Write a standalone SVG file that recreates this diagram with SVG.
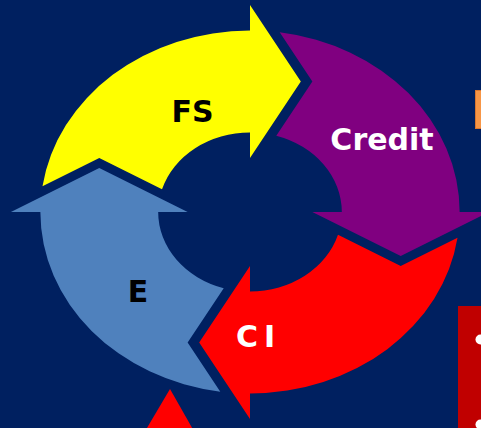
<svg xmlns="http://www.w3.org/2000/svg" width="481" height="428" viewBox="0 0 481 428">
<style>
.lbl{font-family:"DejaVu Sans","Verdana",sans-serif;font-weight:bold;font-size:30px}
.dark{fill:#000000}
.light{fill:#FFFFFF}
</style>
<defs>
<path id="arc" d="M -179.67,-25.72 A 181.5 181.5 0 0 1 0,-181.5 L 0,-207 L 44,-130.5 L 0,-54 L 0,-79.5 A 79.5 79.5 0 0 0 -76.18,-22.75 L -130.5,-54 Z"/>
</defs>
<rect x="0" y="0" width="481" height="428" fill="#002060"/>
<g id="side-shapes">
<rect x="475.5" y="90.5" width="8" height="38" fill="#F79646" stroke="#D9762E" stroke-width="1"/>
<rect x="458" y="306" width="30" height="130" fill="#C00000"/>
<circle cx="480.5" cy="339.5" r="5" fill="#FFFFFF"/>
<circle cx="480.5" cy="424.5" r="5" fill="#FFFFFF"/>
<polygon points="170,389 195,433 144,433" fill="#FF0000"/>
</g>
<g id="connectors" transform="translate(250,212) scale(1.155,1)">
<g id="node-fs"><use href="#arc" fill="#FFFF00"/></g>
<g id="node-credit"><use href="#arc" fill="#800080" transform="rotate(90)"/></g>
<g id="node-ci"><use href="#arc" fill="#FF0000" transform="rotate(180)"/></g>
<g id="node-e"><use href="#arc" fill="#4F81BD" transform="rotate(270)"/></g>
</g>
<g id="labels">
<text class="lbl dark" x="192.5" y="122" text-anchor="middle">FS</text>
<text class="lbl light" x="382" y="150" text-anchor="middle">Credit</text>
<text class="lbl light" y="347"><tspan x="236">C</tspan><tspan x="264">I</tspan></text>
<text class="lbl dark" x="138" y="302" text-anchor="middle">E</text>
</g>
</svg>
